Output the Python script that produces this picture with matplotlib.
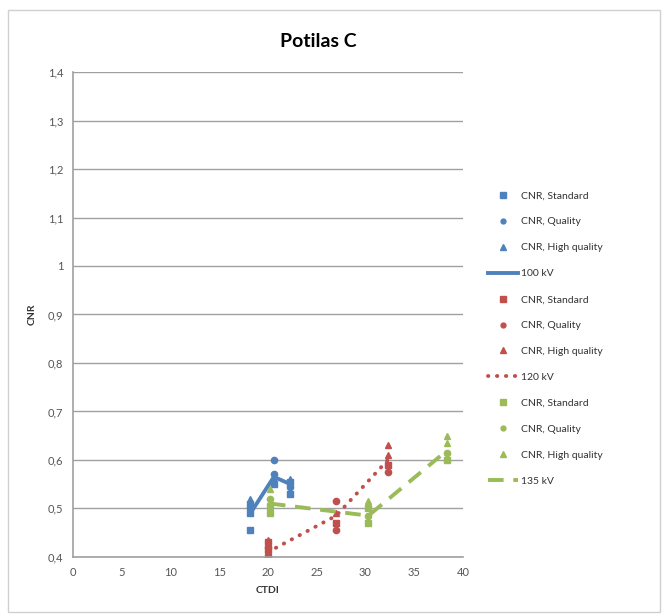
import matplotlib
matplotlib.use("Agg")
import matplotlib.pyplot as plt
from matplotlib.lines import Line2D
from matplotlib.patches import Rectangle
from matplotlib.ticker import FuncFormatter

plt.rcParams['font.family'] = ['Lato', 'DejaVu Sans']

# 100 kV
std_100_x = [18.2, 18.2, 18.2, 20.6, 22.3, 22.3]
std_100_y = [0.455, 0.49, 0.51, 0.55, 0.53, 0.555]
qual_100_x = [18.2, 20.6, 20.6, 22.3]
qual_100_y = [0.50, 0.57, 0.60, 0.545]
hq_100_x = [18.2, 20.6, 22.3]
hq_100_y = [0.52, 0.56, 0.56]
line_100_x = [18.2, 20.6, 22.3]
line_100_y = [0.49, 0.565, 0.55]

# 120 kV
std_120_x = [20.0, 20.0, 20.0, 27.0, 32.3]
std_120_y = [0.40, 0.415, 0.43, 0.47, 0.59]
qual_120_x = [20.0, 27.0, 27.0, 32.3]
qual_120_y = [0.42, 0.455, 0.515, 0.575]
hq_120_x = [20.0, 27.0, 32.3, 32.3]
hq_120_y = [0.435, 0.49, 0.61, 0.63]
line_120_x = [20.0, 27.0, 32.3]
line_120_y = [0.41, 0.485, 0.60]

# 135 kV
std_135_x = [20.2, 20.2, 30.3, 30.3, 38.4]
std_135_y = [0.49, 0.505, 0.47, 0.50, 0.60]
qual_135_x = [20.2, 30.3, 38.4]
qual_135_y = [0.52, 0.485, 0.615]
hq_135_x = [20.2, 30.3, 38.4, 38.4]
hq_135_y = [0.54, 0.515, 0.635, 0.65]
line_135_x = [20.2, 30.3, 38.4]
line_135_y = [0.51, 0.485, 0.62]

blue = '#4F81BD'
red = '#C0504D'
green = '#9BBB59'

fig = plt.figure(figsize=(6.7, 6.16), dpi=100)
fig.patches.append(Rectangle((0.012, 0.006), 0.973, 0.978, transform=fig.transFigure,
                             fill=False, edgecolor='#d0d0d0', linewidth=1))
ax = fig.add_axes([0.109, 0.096, 0.582, 0.787])

groups = [
    (blue, std_100_x, std_100_y, qual_100_x, qual_100_y, hq_100_x, hq_100_y,
     line_100_x, line_100_y, dict(linestyle='-', linewidth=2.8), '100 kV'),
    (red, std_120_x, std_120_y, qual_120_x, qual_120_y, hq_120_x, hq_120_y,
     line_120_x, line_120_y, dict(linestyle=(0, (0.1, 2.2)), linewidth=2.8,
                                  dash_capstyle='round'), '120 kV'),
    (green, std_135_x, std_135_y, qual_135_x, qual_135_y, hq_135_x, hq_135_y,
     line_135_x, line_135_y, dict(linestyle=(0, (4, 2.5)), linewidth=2.8), '135 kV'),
]

handles = []
labels = []
for c, sx, sy, qx, qy, hx, hy, lx, ly, ls, name in groups:
    ax.plot(sx, sy, 's', color=c, markersize=4.5, linestyle='none')
    ax.plot(qx, qy, 'o', color=c, markersize=4.5, linestyle='none')
    ax.plot(hx, hy, '^', color=c, markersize=5, linestyle='none')
    ax.plot(lx, ly, color=c, **ls)
    handles += [Line2D([], [], marker='s', color=c, markersize=4.5, linestyle='none'),
                Line2D([], [], marker='o', color=c, markersize=3.5, linestyle='none'),
                Line2D([], [], marker='^', color=c, markersize=4.5, linestyle='none'),
                Line2D([], [], color=c, **ls)]
    labels += ['CNR, Standard', 'CNR, Quality', 'CNR, High quality', name]

ax.set_xlim(0, 40)
ax.set_ylim(0.4, 1.4)
ax.set_xticks(range(0, 41, 5))
ax.set_yticks([0.4 + 0.1 * i for i in range(11)])
ax.yaxis.set_major_formatter(FuncFormatter(lambda v, p: ('%g' % round(v, 1)).replace('.', ',')))
ax.tick_params(length=0, labelsize=8, colors='#555555', pad=7)
ax.grid(axis='y', color='#a0a0a0', linewidth=1)
ax.set_axisbelow(True)
for s in ['top', 'right']:
    ax.spines[s].set_visible(False)
for s in ['left', 'bottom']:
    ax.spines[s].set_color('#a0a0a0')
    ax.spines[s].set_linewidth(1.2)

ax.set_xlabel('CTDI', fontsize=7.5, fontweight='bold', color='#333333', labelpad=6)
ax.set_ylabel('CNR', fontsize=7.5, fontweight='bold', color='#333333', labelpad=8)
fig.text(0.475, 0.932, 'Potilas C', ha='center', va='center', fontsize=14, fontweight='bold')

fig.legend(handles, labels, loc='upper left', bbox_to_anchor=(0.715, 0.705),
           frameon=False, fontsize=7.5, handlelength=2.8, labelspacing=1.6,
           handletextpad=0.35, labelcolor='#333333')

fig.savefig('out.png', dpi=100)
